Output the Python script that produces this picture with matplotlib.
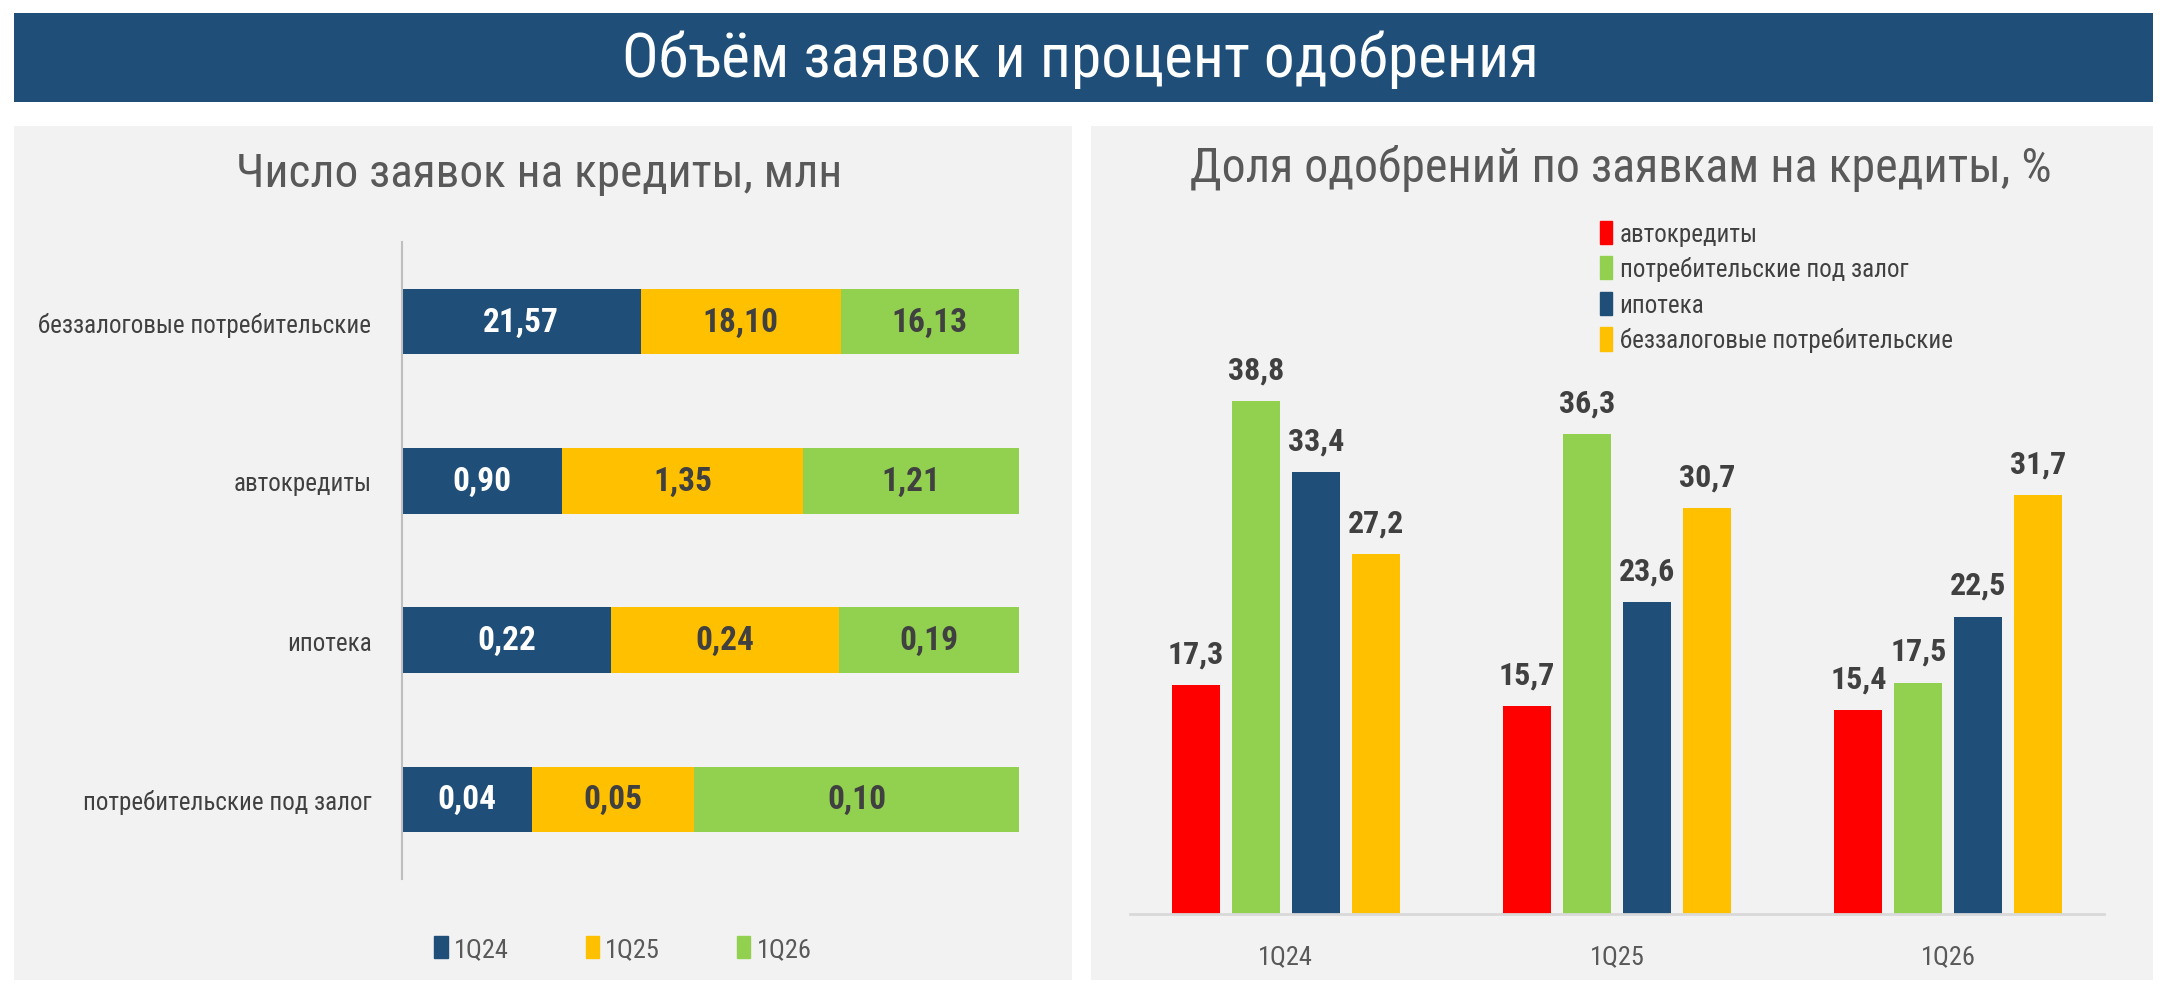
import matplotlib
matplotlib.use("Agg")
import matplotlib.pyplot as plt
from matplotlib.patches import Rectangle, Patch
import numpy as np

# data
left_categories = ["беззалоговые потребительские", "автокредиты", "ипотека", "потребительские под залог"]
left_periods = ["1Q24", "1Q25", "1Q26"]
apps_1q24 = [21.57, 0.90, 0.22, 0.04]
apps_1q25 = [18.10, 1.35, 0.24, 0.05]
apps_1q26 = [16.13, 1.21, 0.19, 0.10]

right_periods = ["1Q24", "1Q25", "1Q26"]
right_series = ["автокредиты", "потребительские под залог", "ипотека", "беззалоговые потребительские"]
approval_auto = [17.3, 15.7, 15.4]
approval_secured = [38.8, 36.3, 17.5]
approval_mortgage = [33.4, 23.6, 22.5]
approval_unsecured = [27.2, 30.7, 31.7]

NAVY = "#1f4e79"
YELLOW = "#ffc000"
GREEN = "#92d050"
RED = "#ff0000"
PANEL = "#f2f2f2"
GREY_TXT = "#595959"
DARK_TXT = "#404040"

plt.rcParams["font.family"] = ["Roboto Condensed", "DejaVu Sans"]

W, H = 2160, 995
fig = plt.figure(figsize=(W / 100, H / 100), dpi=100)


def box(x0, y0, x1, y1):
    return [x0 / W, 1 - y1 / H, (x1 - x0) / W, (y1 - y0) / H]


def rect(x0, y0, x1, y1, color):
    b = box(x0, y0, x1, y1)
    fig.patches.append(Rectangle((b[0], b[1]), b[2], b[3], transform=fig.transFigure,
                                 facecolor=color, edgecolor="none", zorder=-5))


# banner and panels
rect(14, 14, 2153, 103, NAVY)
rect(14, 127, 1072, 981, PANEL)
rect(1091, 127, 2153, 981, PANEL)
fig.text(1080 / W, 1 - 60 / H, "Объём заявок и процент одобрения", color="white",
         fontsize=44, ha="center", va="center")
fig.text(539 / W, 1 - 174 / H, "Число заявок на кредиты, млн", color=GREY_TXT,
         fontsize=34, ha="center", va="center")
fig.text(1621 / W, 1 - 168 / H, "Доля одобрений по заявкам на кредиты, %", color=GREY_TXT,
         fontsize=34.5, ha="center", va="center")

# left: 100% stacked horizontal bars
ax1 = fig.add_axes(box(402, 243, 1019, 880))
ax1.set_facecolor("none")
vals = np.array([apps_1q24, apps_1q25, apps_1q26])
shares = vals / vals.sum(axis=0)
y = np.arange(len(left_categories))
left = np.zeros(len(left_categories))
colors = [NAVY, YELLOW, GREEN]
txt_colors = ["white", DARK_TXT, DARK_TXT]
for i, period in enumerate(left_periods):
    ax1.barh(y, shares[i], left=left, height=0.41, color=colors[i], label=period)
    for j in range(len(y)):
        ax1.text(left[j] + shares[i][j] / 2, y[j], f"{vals[i][j]:.2f}".replace(".", ","),
                 ha="center", va="center", color=txt_colors[i], fontsize=24, fontweight="bold")
    left += shares[i]
ax1.set_xlim(0, 1)
ax1.set_ylim(3.5, -0.5)
ax1.set_yticks(y)
ax1.set_yticklabels(left_categories, fontsize=18, color=DARK_TXT)
ax1.tick_params(axis="y", length=0, pad=22)
ax1.set_xticks([])
for s in ["top", "right", "bottom"]:
    ax1.spines[s].set_visible(False)
ax1.spines["left"].set_color("#bfbfbf")
ax1.spines["left"].set_linewidth(1.5)
handles = [Patch(color=c, label=p) for c, p in zip(colors, left_periods)]
fig.legend(handles=handles, loc="center", bbox_to_anchor=(623 / W, 1 - 950 / H), ncol=3,
           frameon=False, fontsize=19, handlelength=0.5, handleheight=0.9,
           handletextpad=0.25, columnspacing=2.9, labelcolor=GREY_TXT)

# right: grouped vertical bars
ax2 = fig.add_axes(box(1130, 260, 2104, 915))
ax2.set_facecolor("none")
series = [approval_auto, approval_secured, approval_mortgage, approval_unsecured]
scol = [RED, GREEN, NAVY, YELLOW]
x = np.arange(len(right_periods))
step = 0.181
width = 0.145
for k, (vals2, c, name) in enumerate(zip(series, scol, right_series)):
    pos = x + (k - 1.5) * step
    ax2.bar(pos, vals2, width=width, color=c, label=name)
    for p, v in zip(pos, vals2):
        ax2.annotate(f"{v:.1f}".replace(".", ","), (p, v), xytext=(0, 12), textcoords="offset points",
                     ha="center", va="bottom", fontsize=23, fontweight="bold", color=DARK_TXT)
ax2.set_xlim(-0.47, 2.47)
ax2.set_ylim(0, 655 / 13.22)
ax2.set_xticks(x)
ax2.set_xticklabels(right_periods, fontsize=19, color=GREY_TXT)
ax2.tick_params(axis="x", length=0, pad=22)
ax2.set_yticks([])
for s in ["top", "right", "left"]:
    ax2.spines[s].set_visible(False)
ax2.spines["bottom"].set_color("#d9d9d9")
ax2.spines["bottom"].set_linewidth(2)
fig.legend(handles=[Patch(color=c, label=n) for c, n in zip(scol, right_series)],
           loc="upper left", bbox_to_anchor=(1577 / W, 1 - 199 / H), ncol=1, frameon=False,
           fontsize=18, handlelength=0.5, handleheight=1.05, handletextpad=0.3,
           labelspacing=0.42, labelcolor=DARK_TXT)

fig.savefig("out.png", dpi=100)
